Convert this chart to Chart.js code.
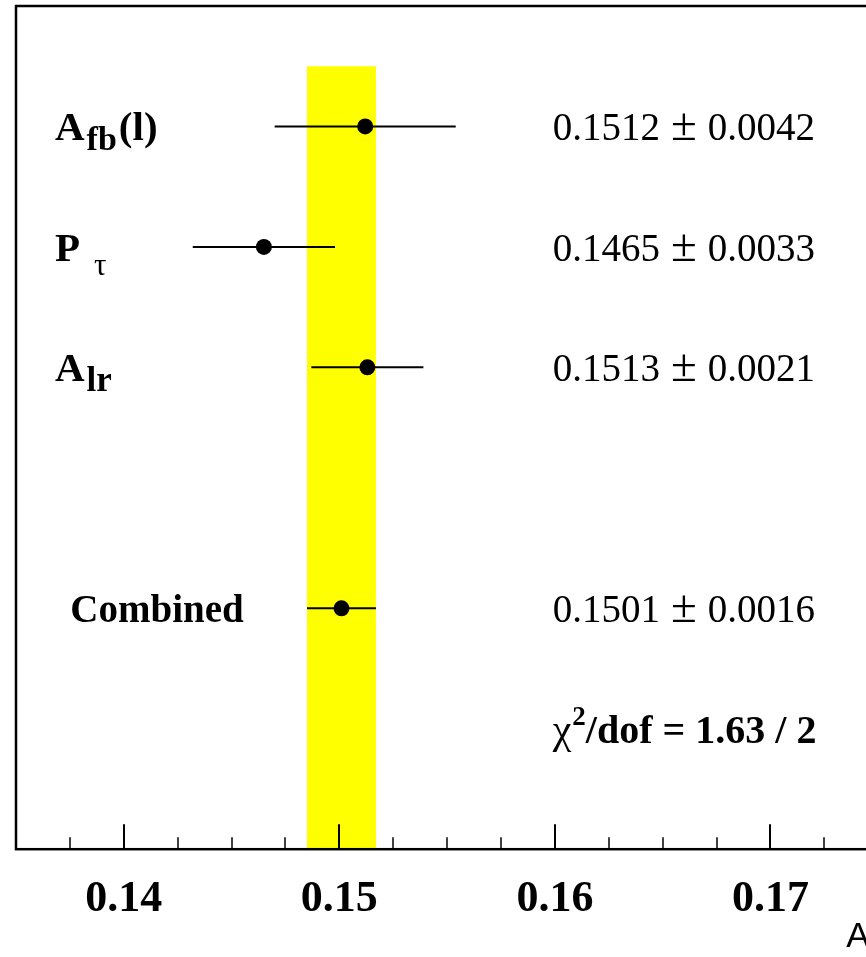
<!DOCTYPE html>
<html><head><meta charset="utf-8">
<script src="https://cdn.jsdelivr.net/npm/chart.js@4.4.1/dist/chart.umd.min.js"></script>
<style>
html,body{margin:0;padding:0;background:#fff;overflow:hidden;width:866px;height:957px;}
#wrap{position:relative;width:1000px;height:957px;}
</style></head><body>
<div id="wrap"><canvas id="c" width="1000" height="957"></canvas></div>
<script>
// ---- data ----
const categories = ['A_fb(l)', 'P_tau', 'A_lr', 'Combined'];
const values = [0.1512, 0.1465, 0.1513, 0.1501];
const quotedErrors = [0.0042, 0.0033, 0.0021, 0.0016];
const plottedErrors = [0.0042, 0.0033, 0.0026, 0.0016];
const rows = [7, 6, 5, 3];
const xTickLabels = ['0.14', '0.15', '0.16', '0.17'];
const chi2 = 1.63;
const dof = 2;
const chi2Row = 2;
const axisTitle = 'A';

// ---- styles ----
const SERIF = '"Liberation Serif", "Times New Roman", serif';
const B = s => 'bold ' + s + 'px ' + SERIF;
const R = s => s + 'px ' + SERIF;

const labelParts = {
  'A_fb(l)': [{t:'A', f:B(41)}, {t:'fb', f:B(34), dy:10, dx:2}, {t:'(l)', f:B(41), dx:2}],
  'P_tau': [{t:'P', f:B(41)}, {t:'\u03c4', f:R(31), dy:14, dx:14}],
  'A_lr': [{t:'A', f:B(41)}, {t:'lr', f:B(35), dy:10, dx:2}],
  'Combined': [{t:'Combined', f:B(39)}]
};
const labelStart = {'A_fb(l)':0.13681, 'P_tau':0.13681, 'A_lr':0.13681, 'Combined':0.13752};
const valueTextStart = 0.1599;

function drawRich(ctx, x, y, parts) {
  ctx.textBaseline = 'alphabetic';
  ctx.textAlign = 'left';
  ctx.fillStyle = '#000';
  for (const p of parts) {
    ctx.font = p.f;
    x += (p.dx || 0);
    ctx.fillText(p.t, x, y + (p.dy || 0));
    x += ctx.measureText(p.t).width;
  }
}

const overlay = {
  id: 'overlay',
  beforeDatasetsDraw(chart) {
    const ctx = chart.ctx, xs = chart.scales.x, ys = chart.scales.y, a = chart.chartArea;
    ctx.save();
    // combined band
    const ci = categories.indexOf('Combined');
    const bx1 = xs.getPixelForValue(values[ci] - quotedErrors[ci]);
    const bx2 = xs.getPixelForValue(values[ci] + quotedErrors[ci]);
    const by1 = ys.getPixelForValue(7.5);
    ctx.fillStyle = '#ffff00';
    ctx.fillRect(bx1, by1, bx2 - bx1, a.bottom - by1);
    // inward ticks
    ctx.strokeStyle = '#000';
    xs.ticks.forEach(t => {
      const major = xTickLabels.includes(t.value.toFixed(2)) && Math.abs(t.value * 100 - Math.round(t.value * 100)) < 1e-6;
      const px = Math.round(xs.getPixelForValue(t.value));
      if (px < a.left + 2) return;
      ctx.lineWidth = major ? 2 : 1.5;
      ctx.beginPath();
      ctx.moveTo(px, a.bottom);
      ctx.lineTo(px, a.bottom - (major ? 25 : 12));
      ctx.stroke();
    });
    // frame
    ctx.lineWidth = 2.5;
    ctx.strokeRect(a.left, a.top, a.right - a.left, a.bottom - a.top);
    // error bars
    ctx.lineWidth = 2;
    values.forEach((v, i) => {
      const y = ys.getPixelForValue(rows[i]);
      ctx.beginPath();
      ctx.moveTo(xs.getPixelForValue(v - plottedErrors[i]), y);
      ctx.lineTo(xs.getPixelForValue(v + plottedErrors[i]), y);
      ctx.stroke();
    });
    ctx.restore();
  },
  afterDatasetsDraw(chart) {
    const ctx = chart.ctx, xs = chart.scales.x, ys = chart.scales.y, a = chart.chartArea;
    ctx.save();
    categories.forEach((c, i) => {
      const y = ys.getPixelForValue(rows[i]) + 14;
      drawRich(ctx, xs.getPixelForValue(labelStart[c]), y, labelParts[c]);
      drawRich(ctx, xs.getPixelForValue(valueTextStart), y, [
        {t: values[i].toFixed(4), f: R(39)},
        {t: '\u00b1', f: R(47), dx: 11},
        {t: quotedErrors[i].toFixed(4), f: R(39), dx: 11}
      ]);
    });
    const yc = ys.getPixelForValue(chi2Row) + 14;
    drawRich(ctx, xs.getPixelForValue(valueTextStart), yc, [
      {t:'\u03c7', f:R(42)}, {t:'2', f:B(27), dy:-18, dx:1}, {t:'/dof = ' + chi2.toFixed(2) + ' / ' + dof, f:B(40)}
    ]);
    // axis title
    ctx.font = '35px "Liberation Sans", Arial, sans-serif';
    ctx.textBaseline = 'alphabetic';
    const tx = xs.getPixelForValue(0.17352);
    ctx.fillText(axisTitle, tx, a.bottom + 98);
    ctx.font = '24px "Liberation Sans", Arial, sans-serif';
    ctx.fillText('l', tx + 26, a.bottom + 104);
    ctx.restore();
  }
};

new Chart(document.getElementById('c'), {
  type: 'scatter',
  data: {
    datasets: [{
      label: 'measurements',
      data: values.map((v, i) => ({x: v, y: rows[i]})),
      pointRadius: 8, pointHoverRadius: 8,
      backgroundColor: '#000', borderWidth: 0, pointStyle: 'circle'
    }]
  },
  options: {
    responsive: false,
    animation: false,
    devicePixelRatio: 1,
    layout: {autoPadding: false, padding: {left: 16, top: 6, right: 14, bottom: 7}},
    plugins: {legend: {display: false}, tooltip: {enabled: false}},
    events: [],
    scales: {
      x: {
        type: 'linear', min: 0.135, max: 0.18,
        grid: {display: false, drawTicks: false},
        border: {display: false},
        afterFit: s => { s.paddingLeft = 0; s.paddingRight = 0; },
        ticks: {
          stepSize: 0.0025, autoSkip: false, maxRotation: 0, padding: 24,
          color: '#000',
          font: {family: SERIF, size: 44, weight: 'bold'},
          callback: v => {
            const s = Number(v).toFixed(2);
            return (Math.abs(v * 100 - Math.round(v * 100)) < 1e-6 && xTickLabels.includes(s)) ? s : '';
          }
        }
      },
      y: {type: 'linear', min: 1, max: 8, display: false}
    }
  },
  plugins: [overlay]
});
</script>
</body></html>
